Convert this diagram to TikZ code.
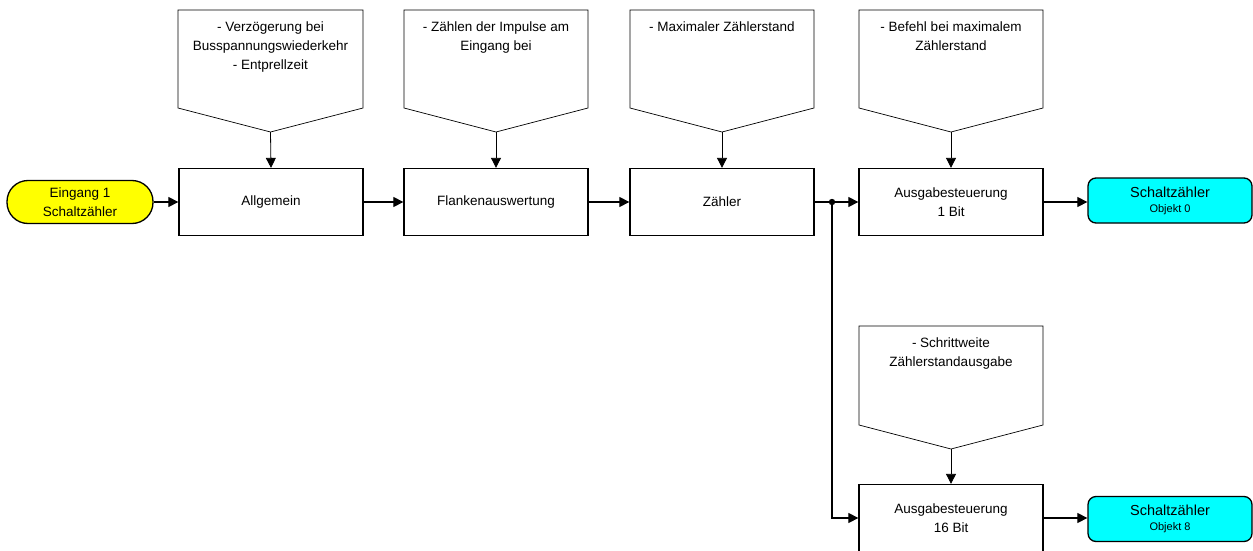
\documentclass[tikz,border=0pt]{standalone}
\usepackage{fontspec}
\setmainfont{Liberation Sans}
\usetikzlibrary{arrows.meta}
\definecolor{startfill}{RGB}{255,255,0}
\definecolor{endfill}{RGB}{0,255,255}
\begin{document}
\begin{tikzpicture}[x=1pt,y=-1pt,
  every node/.style={font=\fontsize{13.5}{19}\selectfont},
  blockbox/.style={draw,line width=1.3pt,minimum width=184pt,minimum height=67pt,align=center,inner sep=0pt},
  startbox/.style={draw,line width=1.3pt,fill=startfill,rounded corners=21pt,minimum width=146pt,minimum height=43pt,align=center,inner sep=0pt},
  endbox/.style={draw,line width=1.3pt,fill=endfill,rounded corners=8pt,minimum width=164pt,minimum height=45pt,align=center,inner sep=0pt},
  pentline/.style={draw,line width=0.7pt},
  pentext/.style={anchor=north,align=center,inner sep=0pt},
  conn/.style={line width=1.2pt,-{Triangle[length=10pt,width=10pt]}},
  feed/.style={line width=0.8pt,-{Triangle[length=10pt,width=10pt]}}
]
\useasboundingbox (0,0) rectangle (1253,551);

% start
\node[startbox] (start) at (80,202) {Eingang 1\\Schaltzähler};

% blocks
\node[blockbox] (b1) at (271,202) {Allgemein};
\node[blockbox] (b2) at (496,202) {Flankenauswertung};
\node[blockbox] (b3) at (722,202) {Zähler};
\node[blockbox] (b4) at (951,202) {Ausgabesteuerung\\1 Bit};
\node[blockbox] (b5) at (951,518) {Ausgabesteuerung\\16 Bit};

% outputs
\node[endbox] (o1) at (1170,200.5) {{\fontsize{14.5}{17}\selectfont Schaltzähler}\\[-4pt]{\fontsize{11}{13}\selectfont Objekt 0}};
\node[endbox] (o2) at (1170,519) {{\fontsize{14.5}{17}\selectfont Schaltzähler}\\[-4pt]{\fontsize{11}{13}\selectfont Objekt 8}};

% pentagons (parameter boxes)
\draw[pentline] (178,10) -- (363,10) -- (363,108) -- (270.5,132) -- (178,108) -- cycle;
\coordinate (p1) at (270.5,132);
\node[pentext] (t1) at (270.5,22) {- Verzögerung bei\\Busspannungswiederkehr\\- Entprellzeit};

\draw[pentline] (404,10) -- (588,10) -- (588,108) -- (496,132) -- (404,108) -- cycle;
\coordinate (p2) at (496,132);
\node[pentext] (t2) at (496,22) {- Zählen der Impulse am\\Eingang bei};

\draw[pentline] (630,10) -- (814,10) -- (814,108) -- (722,132) -- (630,108) -- cycle;
\coordinate (p3) at (722,132);
\node[pentext] (t3) at (722,22) {- Maximaler Zählerstand};

\draw[pentline] (859,10) -- (1043,10) -- (1043,108) -- (951,132) -- (859,108) -- cycle;
\coordinate (p4) at (951,132);
\node[pentext] (t4) at (951,22) {- Befehl bei maximalem\\Zählerstand};

\draw[pentline] (859,326) -- (1043,326) -- (1043,425) -- (951,449) -- (859,425) -- cycle;
\coordinate (p5) at (951,449);
\node[pentext] (t5) at (951,338) {- Schrittweite\\Zählerstandausgabe};

% feeds
\draw[feed] (p1) -- (b1.north);
\draw[feed] (p2) -- (b2.north);
\draw[feed] (p3) -- (b3.north);
\draw[feed] (p4) -- (b4.north);
\draw[feed] (p5) -- (b5.north);

% main flow
\draw[conn] (start) -- (b1);
\draw[conn] (b1) -- (b2);
\draw[conn] (b2) -- (b3);
\coordinate (j) at (832,202);
\draw[line width=1.2pt] (b3.east) -- (j);
\draw[conn] (j) -- (b4);
\draw[conn] (j) |- (b5.west);
\fill (j) circle (3.2pt);
\draw[conn] (b4) -- (o1.west |- b4.east);
\draw[conn] (b5) -- (o2.west |- b5.east);
\end{tikzpicture}
\end{document}
